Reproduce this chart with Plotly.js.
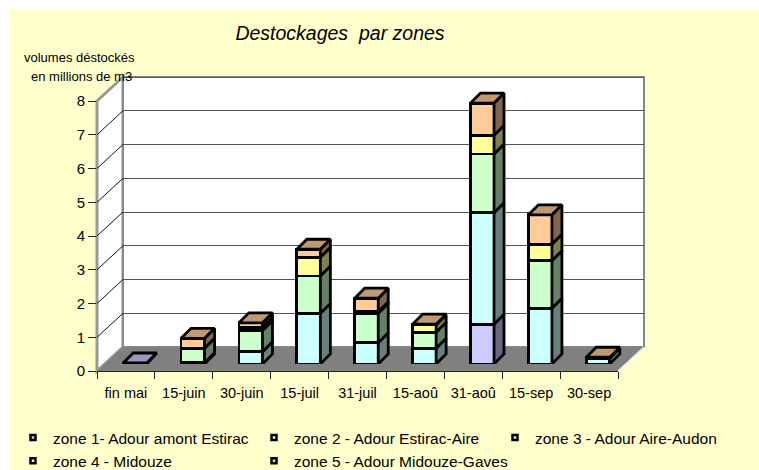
<!DOCTYPE html>
<html><head><meta charset="utf-8">
<script src="https://cdn.plot.ly/plotly-3.0.1.min.js"></script>
<style>html,body{margin:0;padding:0;background:#fff}#chart{width:759px;height:470px}</style>
</head><body><div id="chart"></div>
<script>
// ---- data ----
const categories = ['fin mai','15-juin','30-juin','15-juil','31-juil','15-aoû','31-aoû','15-sep','30-sep'];
const zone1 = [0.03, 0,    0,    0,    0,    0,    1.18, 0,    0];
const zone2 = [0,    0.04, 0.36, 1.50, 0.63, 0.47, 3.30, 1.65, 0.17];
const zone3 = [0,    0.43, 0.63, 1.11, 0.87, 0.47, 1.74, 1.41, 0];
const zone4 = [0,    0,    0.10, 0.55, 0.05, 0.22, 0.56, 0.49, 0];
const zone5 = [0,    0.29, 0.13, 0.24, 0.40, 0.02, 0.95, 0.87, 0.03];
const seriesNames = ['zone 1- Adour amont Estirac','zone 2 - Adour Estirac-Aire','zone 3 - Adour Aire-Audon','zone 4 - Midouze','zone 5 - Adour Midouze-Gaves'];
const yTicks = [0,1,2,3,4,5,6,7,8];

// ---- styling / geometry ----
const W=759, H=470;
const FONT='Liberation Sans, Arial, sans-serif';
const FX0=97, FX1=618, FY0=371, PPU=33.75, YMAX=8.68;
const DX=26, DY=24;          // depth of the box
const BX=9, BY=7;            // depth position of bars
const BW=23.5, BDX=10, BDY=10; // bar width and bar depth (px)
const LW=2.8;
const fx=p=>p/W, fy=p=>1-p/H;
const catW=(FX1-FX0)/categories.length;

const zones=[zone1,zone2,zone3,zone4,zone5];
const frontC=['#CCCCFF','#CCFFFF','#CCFFCC','#FFFF99','#FFCC99'];
const sideC =['#666680','#668080','#668066','#80804D','#80664D'];
const topC  =['#9999C0','#99C0C0','#99C099','#C0C073','#C09973'];
const xs=categories.map((c,i)=>i);

const traces=[];
traces.push({type:'scatter',x:categories,y:categories.map(()=>0),mode:'markers',marker:{opacity:0},showlegend:false,hoverinfo:'skip'});
traces.push({type:'scatter',x:[0],y:[0],xaxis:'x2',yaxis:'y2',mode:'markers',marker:{opacity:0},showlegend:false,hoverinfo:'skip'});

const bw=BW/catW, ddx=BDX/catW, ddy=BDY/PPU;
zones.forEach((z,k)=>{
  traces.push({type:'bar',x:xs,y:z,xaxis:'x3',yaxis:'y3',width:bw,
    marker:{color:frontC[k],line:{color:'#000',width:LW}},showlegend:false,hoverinfo:'skip'});
});
const sides=zones.map(()=>({x:[],y:[]}));
const tops=zones.map(()=>({x:[],y:[]}));
xs.forEach(i=>{
  let cum=0, last=-1;
  const xl=i-bw/2, xr=i+bw/2;
  zones.forEach((z,k)=>{
    const v=z[i]; if(!(v>0)) return;
    const b=cum, t=cum+v;
    sides[k].x.push(xr,xr+ddx,xr+ddx,xr,xr,null);
    sides[k].y.push(b,b+ddy,t+ddy,t,b,null);
    cum=t; last=k;
  });
  if(last>=0){
    tops[last].x.push(xl,xl+ddx,xr+ddx,xr,xl,null);
    tops[last].y.push(cum,cum+ddy,cum+ddy,cum,cum,null);
  }
});
zones.forEach((z,k)=>{
  traces.push({type:'scatter',x:sides[k].x,y:sides[k].y,xaxis:'x3',yaxis:'y3',mode:'lines',fill:'toself',
    fillcolor:sideC[k],line:{color:'#000',width:LW},showlegend:false,hoverinfo:'skip'});
  traces.push({type:'scatter',x:tops[k].x,y:tops[k].y,xaxis:'x3',yaxis:'y3',mode:'lines',fill:'toself',
    fillcolor:topC[k],line:{color:'#000',width:LW},showlegend:false,hoverinfo:'skip'});
});
zones.forEach((z,k)=>{
  traces.push({type:'scatter',x:[null],y:[null],xaxis:'x3',yaxis:'y3',mode:'markers',name:seriesNames[k],
    marker:{symbol:'square',size:5,color:frontC[k],line:{color:'#000',width:2.5}},hoverinfo:'skip'});
});

function path(pts){return 'M'+pts.map(p=>fx(p[0]).toFixed(5)+','+fy(p[1]).toFixed(5)).join('L')+'Z';}
const topFront=FY0-8*PPU;
const shapes=[
  {type:'rect',xref:'paper',yref:'paper',layer:'below',x0:fx(10),x1:1,y0:0,y1:fy(10),fillcolor:'#FFFFCC',line:{width:0}},
  {type:'path',xref:'paper',yref:'paper',layer:'below',path:path([[FX0,topFront],[FX0+DX,topFront-DY],[FX0+DX,FY0-DY],[FX0,FY0]]),fillcolor:'#FFFFFF',line:{color:'#999',width:3}},
  {type:'rect',xref:'paper',yref:'paper',layer:'below',x0:fx(FX0+DX),x1:fx(FX1+DX),y0:fy(FY0-DY),y1:fy(topFront-DY),fillcolor:'#FFFFFF',line:{color:'#888',width:2}},
];
yTicks.forEach(k=>{ if(k===0||k===8) return;
  shapes.push({type:'line',xref:'paper',yref:'paper',layer:'below',x0:fx(FX0),y0:fy(FY0-k*PPU),x1:fx(FX0+DX),y1:fy(FY0-k*PPU-DY),line:{color:'#111',width:1}});
});
shapes.push({type:'path',xref:'paper',yref:'paper',layer:'below',path:path([[FX0,FY0],[FX1,FY0],[FX1+DX,FY0-DY],[FX0+DX,FY0-DY]]),fillcolor:'#808080',line:{width:0}});
shapes.push({type:'line',xref:'paper',yref:'paper',layer:'below',x0:fx(FX1),y0:fy(FY0),x1:fx(FX1+DX),y1:fy(FY0-DY),line:{color:'#E8E8E8',width:1.5}});

const layout={
  width:W,height:H,margin:{l:0,r:0,t:0,b:0,autoexpand:false},
  paper_bgcolor:'#FFFFFF',plot_bgcolor:'rgba(0,0,0,0)',
  font:{family:FONT,color:'#000'},
  barmode:'stack',
  title:{text:'Destockages\u00a0 par zones',x:340/W,xanchor:'center',y:fy(33),yanchor:'middle',
    font:{family:FONT,size:19.5,style:'italic',color:'#000'}},
  xaxis:{type:'category',domain:[fx(FX0),fx(FX1)],range:[-0.5,8.5],anchor:'y',tickson:'boundaries',
    ticks:'outside',ticklen:7,tickcolor:'#222',showline:true,linecolor:'#222',linewidth:1,ticklabelstandoff:9,
    showgrid:false,zeroline:false,tickfont:{size:14.5,family:FONT,color:'#000'},fixedrange:true},
  yaxis:{domain:[fy(FY0),fy(FY0-YMAX*PPU)],range:[0,YMAX],anchor:'x',tickvals:yTicks,
    ticks:'outside',ticklen:8,tickcolor:'#222',showline:false,showgrid:false,zeroline:false,
    tickfont:{size:15,family:FONT,color:'#000'},fixedrange:true},
  xaxis2:{domain:[fx(FX0+DX),fx(FX1+DX)],range:[-0.5,8.5],anchor:'y2',visible:false},
  yaxis2:{domain:[fy(FY0-DY),fy(FY0-DY-YMAX*PPU)],range:[0,YMAX],anchor:'x2',tickvals:yTicks,
    showgrid:true,gridcolor:'#555',gridwidth:1,showticklabels:false,ticks:'',zeroline:false,showline:false},
  xaxis3:{domain:[fx(FX0+BX),fx(FX1+BX)],range:[-0.5,8.5],anchor:'y3',visible:false},
  yaxis3:{domain:[fy(FY0-BY),fy(FY0-BY-YMAX*PPU)],range:[0,YMAX],anchor:'x3',visible:false},
  shapes:shapes,
  annotations:[
    {xref:'paper',yref:'paper',x:fx(79),y:fy(57),text:'volumes déstockés',showarrow:false,xanchor:'center',yanchor:'middle',font:{size:13,family:FONT,color:'#000'}},
    {xref:'paper',yref:'paper',x:fx(81),y:fy(76),text:'en millions de m3',showarrow:false,xanchor:'center',yanchor:'middle',font:{size:13,family:FONT,color:'#000'}}
  ],
  showlegend:true,
  legend:{orientation:'h',x:fx(13),xanchor:'left',y:fy(421),yanchor:'top',bgcolor:'rgba(0,0,0,0)',
    font:{size:15.5,family:FONT,color:'#000'},entrywidth:196,entrywidthmode:'pixels',traceorder:'normal',itemclick:false,itemdoubleclick:false}
};
Plotly.newPlot('chart',traces,layout,{displayModeBar:false,staticPlot:true});
</script></body></html>
